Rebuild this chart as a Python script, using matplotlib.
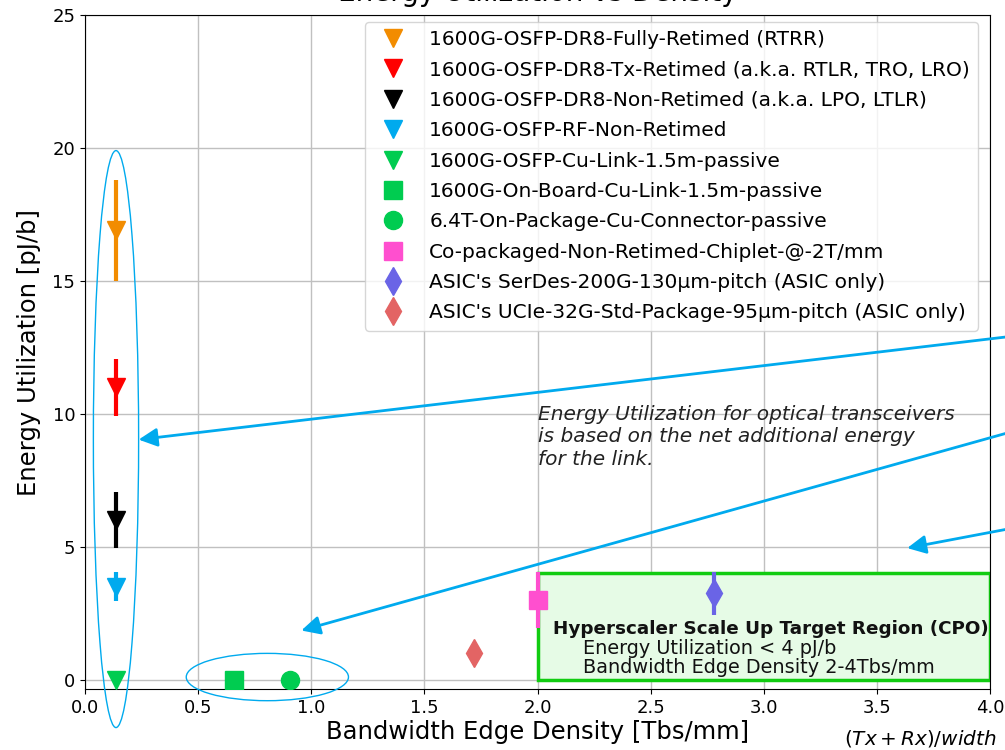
import matplotlib
matplotlib.use("Agg")
import matplotlib.pyplot as plt
from matplotlib.patches import Ellipse, Rectangle

# ---- data ----
labels = [
    "1600G-OSFP-DR8-Fully-Retimed (RTRR)",
    "1600G-OSFP-DR8-Tx-Retimed (a.k.a. RTLR, TRO, LRO)",
    "1600G-OSFP-DR8-Non-Retimed (a.k.a. LPO, LTLR)",
    "1600G-OSFP-RF-Non-Retimed",
    "1600G-OSFP-Cu-Link-1.5m-passive",
    "1600G-On-Board-Cu-Link-1.5m-passive",
    "6.4T-On-Package-Cu-Connector-passive",
    "Co-packaged-Non-Retimed-Chiplet-@-2T/mm",
    "ASIC's SerDes-200G-130\u00b5m-pitch (ASIC only)",
    "ASIC's UCIe-32G-Std-Package-95\u00b5m-pitch (ASIC only)",
]
density = [0.137, 0.137, 0.137, 0.137, 0.137, 0.66, 0.907, 2.0, 2.78, 1.72]
energy = [16.9, 11.0, 6.0, 3.5, 0.0, 0.0, 0.0, 3.0, 3.25, 1.0]
energy_err = [1.9, 1.08, 1.05, 0.55, 0.0, 0.0, 0.0, 1.05, 0.8, 0.0]
markers = ["v", "v", "v", "v", "v", "s", "o", "s", "d", "d"]
marker_sizes = [13, 13, 13, 13, 13, 13.5, 13, 13.5, 14, 14]
colors = ["#f28c00", "#ff0000", "#000000", "#00aaee", "#00cc50",
          "#00cc50", "#00cc50", "#ff4fcf", "#6a64e6", "#e36464"]

xticks = [0.0, 0.5, 1.0, 1.5, 2.0, 2.5, 3.0, 3.5, 4.0]
yticks = [0, 5, 10, 15, 20, 25]

accent = "#00aaee"

fig = plt.figure(figsize=(10.05, 7.5), dpi=100)
ax = fig.add_axes([85 / 1005, 1 - 689 / 750, 905 / 1005, 674 / 750])

ax.set_xlim(0, 4.0)
ax.set_ylim(-0.35, 25)
ax.set_xticks(xticks)
ax.set_yticks(yticks)
ax.grid(True, color="#c0c0c0", lw=1.0)
ax.set_axisbelow(True)
ax.tick_params(labelsize=13)

# target region
ax.add_patch(Rectangle((2.0, 0.0), 2.0, 4.0, facecolor="#e6fbe6",
                       edgecolor="#11cc11", lw=2.5, zorder=1))

for x, y, e, m, ms, c, lab in zip(density, energy, energy_err, markers,
                                  marker_sizes, colors, labels):
    if e > 0:
        ax.errorbar([x], [y], yerr=[e], fmt="none", ecolor=c, elinewidth=3,
                    capsize=0, zorder=3)
    ax.plot([x], [y], marker=m, color=c, ls="none", markersize=ms,
            label=lab, zorder=4)

# ellipses
ax.add_patch(Ellipse((0.137, 9.05), 0.2, 21.7, fill=False, edgecolor=accent,
                     lw=1.0, zorder=5, clip_on=False))
ax.add_patch(Ellipse((0.806, 0.1), 0.717, 1.78, fill=False, edgecolor=accent,
                     lw=1.0, zorder=5, clip_on=False))

# arrows coming from outside the plot on the right
arrow_heads = [(0.237, 9.03), (0.956, 1.85), (3.634, 4.95)]
arrow_tails = [(4.925, 13.75), (4.925, 11.3), (4.925, 7.03)]
for head, tail in zip(arrow_heads, arrow_tails):
    ax.annotate("", xy=head, xytext=tail, xycoords="data", textcoords="data",
                annotation_clip=False,
                arrowprops=dict(arrowstyle="-|>", color=accent, lw=2,
                                mutation_scale=28, shrinkA=0, shrinkB=0),
                zorder=6)

ax.text(2.0, 10.34, "Energy Utilization for optical transceivers\n"
        "is based on the net additional energy\nfor the link.",
        style="italic", fontsize=14.5, va="top", ha="left", color="#222222",
        linespacing=1.24)

ax.text(2.07, 1.92, "Hyperscaler Scale Up Target Region (CPO)",
        fontweight="bold", fontsize=13.25, va="center", ha="left", color="#111111")
ax.text(2.2, 0.81, "Energy Utilization < 4 pJ/b\nBandwidth Edge Density 2-4Tbs/mm",
        fontsize=13.9, va="center", ha="left", color="#111111", linespacing=1.02)

ax.set_xlabel("Bandwidth Edge Density [Tbs/mm]", fontsize=17.5, labelpad=2)
ax.set_ylabel("Energy Utilization [pJ/b]", fontsize=17.5, labelpad=8)
ax.set_title("Energy Utilization vs Density", fontsize=20, pad=10)

fig.text(0.9155, 0.0147, r"$(Tx + Rx)/width$", ha="center", va="center",
         fontsize=14.4)

ax.legend(loc="upper right", bbox_to_anchor=(0.9867, 0.9896), borderaxespad=0,
          fontsize=14.5, labelspacing=0.565, handletextpad=0.8)

fig.savefig("out.png", dpi=100)
